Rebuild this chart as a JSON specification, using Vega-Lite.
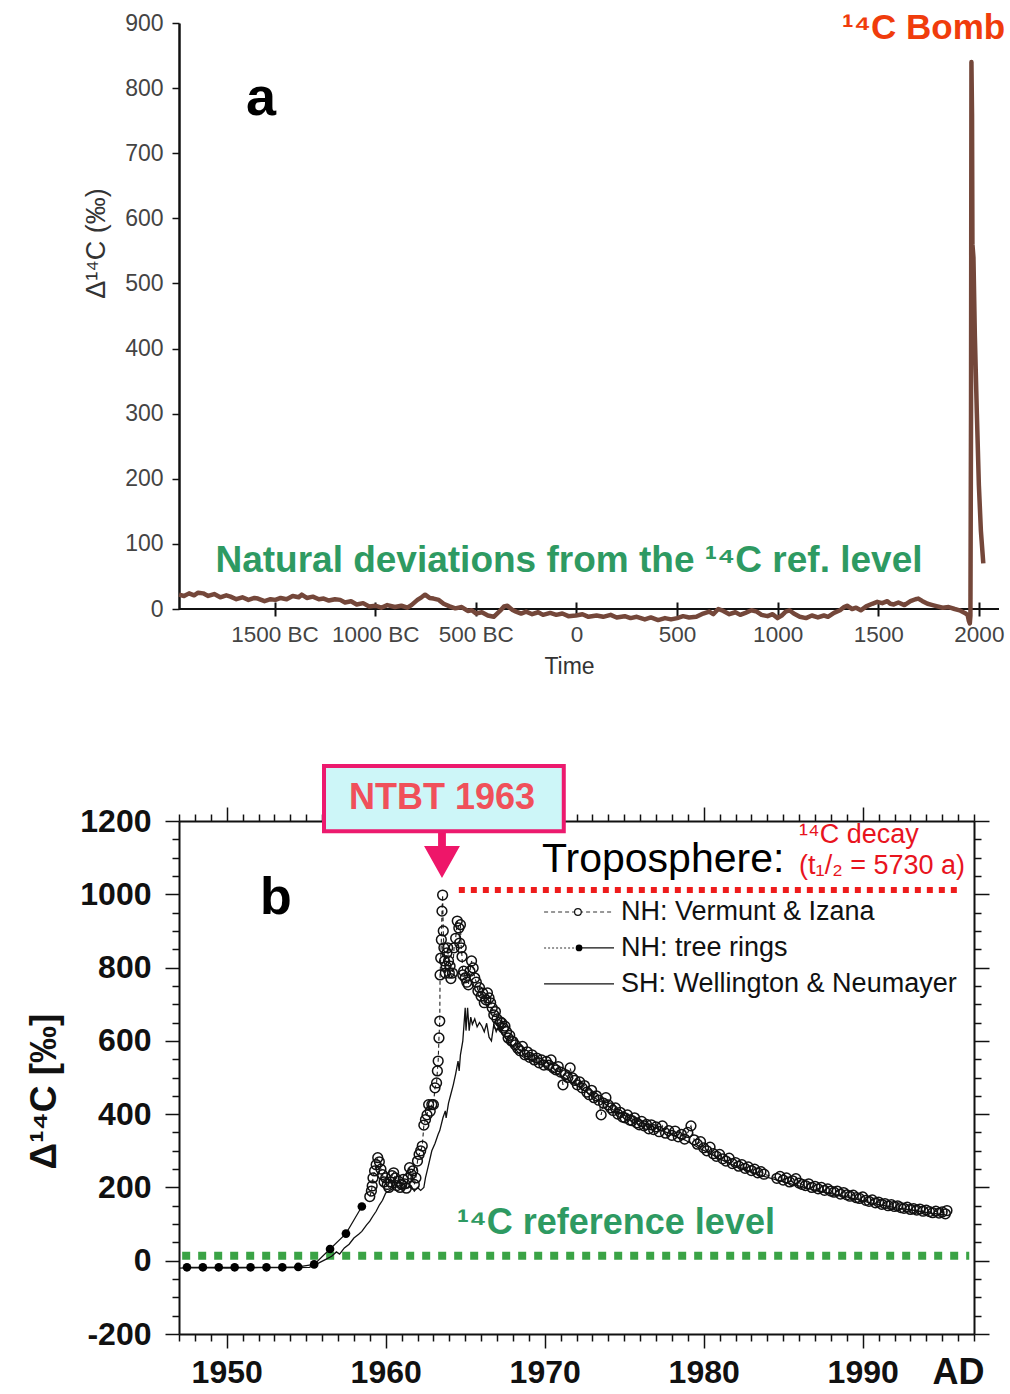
{
  "$schema": "https://vega.github.io/schema/vega-lite/v6.json",
  "background": "white",
  "padding": {"left": 25, "top": 11, "right": 0, "bottom": 0},
  "bounds": "flush",
  "spacing": 212,
  "config": {"view": {"stroke": null}, "font": "Liberation Sans", "axis": {"grid": false}},
  "vconcat": [
    {
      "width": 820,
      "height": 586,
      "layer": [
        {
          "data": {"values": [{}]},
          "mark": {"type": "rule", "color": "#111", "strokeWidth": 2},
          "encoding": {"y": {"datum": 0, "type": "quantitative"}}
        },
        {
          "data": {"values": [
            {"t":-1975,"v":22},{"t":-1950,"v":20},{"t":-1925,"v":24},{"t":-1900,"v":21},{"t":-1880,"v":25},{"t":-1855,"v":24},{"t":-1830,"v":20},{"t":-1800,"v":23},{"t":-1770,"v":18},{"t":-1740,"v":21},{"t":-1719,"v":19},{"t":-1690,"v":15},{"t":-1660,"v":18},{"t":-1630,"v":14},{"t":-1600,"v":17},{"t":-1583,"v":16},{"t":-1550,"v":12},{"t":-1520,"v":15},{"t":-1496,"v":14},{"t":-1470,"v":17},{"t":-1440,"v":15},{"t":-1410,"v":20},{"t":-1380,"v":18},{"t":-1365,"v":22},{"t":-1340,"v":17},{"t":-1310,"v":19},{"t":-1280,"v":15},{"t":-1256,"v":16},{"t":-1230,"v":13},{"t":-1200,"v":15},{"t":-1174,"v":14},{"t":-1150,"v":10},{"t":-1120,"v":12},{"t":-1092,"v":7},{"t":-1060,"v":9},{"t":-1030,"v":4},{"t":-997,"v":5},{"t":-970,"v":2},{"t":-940,"v":6},{"t":-902,"v":3},{"t":-870,"v":5},{"t":-840,"v":2},{"t":-820,"v":6},{"t":-790,"v":14},{"t":-770,"v":18},{"t":-752,"v":22},{"t":-730,"v":17},{"t":-710,"v":16},{"t":-684,"v":14},{"t":-660,"v":8},{"t":-630,"v":4},{"t":-602,"v":1},{"t":-570,"v":3},{"t":-540,"v":-3},{"t":-520,"v":-2},{"t":-499,"v":-7},{"t":-470,"v":-5},{"t":-440,"v":-10},{"t":-411,"v":-12},{"t":-380,"v":-3},{"t":-360,"v":4},{"t":-343,"v":5},{"t":-320,"v":-1},{"t":-300,"v":-4},{"t":-275,"v":-7},{"t":-250,"v":-4},{"t":-220,"v":-8},{"t":-190,"v":-5},{"t":-166,"v":-9},{"t":-130,"v":-6},{"t":-100,"v":-9},{"t":-70,"v":-7},{"t":-40,"v":-11},{"t":-3,"v":-10},{"t":30,"v":-8},{"t":60,"v":-12},{"t":100,"v":-10},{"t":133,"v":-12},{"t":170,"v":-9},{"t":200,"v":-13},{"t":240,"v":-11},{"t":269,"v":-14},{"t":300,"v":-12},{"t":340,"v":-16},{"t":370,"v":-13},{"t":406,"v":-17},{"t":440,"v":-14},{"t":470,"v":-16},{"t":501,"v":-14},{"t":530,"v":-11},{"t":560,"v":-13},{"t":596,"v":-12},{"t":630,"v":-7},{"t":660,"v":-4},{"t":680,"v":-8},{"t":705,"v":0},{"t":730,"v":-3},{"t":760,"v":-8},{"t":790,"v":-5},{"t":814,"v":-9},{"t":840,"v":-6},{"t":870,"v":-2},{"t":896,"v":-4},{"t":920,"v":-9},{"t":950,"v":-11},{"t":975,"v":-8},{"t":999,"v":-14},{"t":1020,"v":-10},{"t":1040,"v":-4},{"t":1059,"v":-2},{"t":1080,"v":-7},{"t":1110,"v":-12},{"t":1141,"v":-14},{"t":1170,"v":-10},{"t":1200,"v":-13},{"t":1230,"v":-10},{"t":1250,"v":-12},{"t":1280,"v":-6},{"t":1310,"v":-2},{"t":1330,"v":3},{"t":1345,"v":5},{"t":1370,"v":0},{"t":1390,"v":2},{"t":1413,"v":-2},{"t":1440,"v":4},{"t":1470,"v":8},{"t":1495,"v":11},{"t":1520,"v":9},{"t":1545,"v":12},{"t":1560,"v":8},{"t":1577,"v":7},{"t":1600,"v":10},{"t":1630,"v":6},{"t":1660,"v":12},{"t":1685,"v":15},{"t":1699,"v":16},{"t":1720,"v":12},{"t":1745,"v":8},{"t":1770,"v":6},{"t":1794,"v":4},{"t":1820,"v":2},{"t":1850,"v":3},{"t":1880,"v":0},{"t":1904,"v":-2},{"t":1930,"v":-6},{"t":1944,"v":-9},
            {"t":1950,"v":-18},{"t":1955,"v":-22},{"t":1958,"v":-10},{"t":1961,"v":300},{"t":1963,"v":840},{"t":1966,"v":760},{"t":1968,"v":560},{"t":1973,"v":540},{"t":1980,"v":420},{"t":1990,"v":300},{"t":2000,"v":190},{"t":2010,"v":120},{"t":2022,"v":70}
          ]},
          "mark": {"type": "line", "color": "#74473a", "strokeWidth": 4.5, "strokeJoin": "round"},
          "encoding": {
            "x": {
              "field": "t", "type": "quantitative",
              "scale": {"domain": [-1975, 2100], "nice": false, "zero": false},
              "axis": {"values": [-1500,-1000,-500,0,500,1000,1500,2000], "labelExpr": "datum.value < 0 ? (-datum.value) + ' BC' : '' + datum.value", "title": "Time", "titleX": 390, "titleFontSize": 23, "titleFontWeight": "normal", "titleColor": "#333", "titlePadding": 10, "offset": -7, "domain": false, "tickSize": 14, "tickWidth": 2, "tickColor": "#111", "labelFontSize": 22.5, "labelColor": "#444", "labelPadding": 7, "labelFlush": false, "labelOverlap": false}
            },
            "y": {
              "field": "v", "type": "quantitative",
              "scale": {"domain": [0, 900], "nice": false, "zero": false},
              "axis": {"values": [0,100,200,300,400,500,600,700,800,900], "title": "Δ¹⁴C (‰)", "titleFontSize": 27, "titleFontWeight": "normal", "titleColor": "#333", "titleY": 220, "titlePadding": 14, "tickSize": 7, "tickWidth": 1.5, "tickColor": "#111", "domainColor": "#111", "domainWidth": 2.5, "labelFontSize": 23, "labelColor": "#444", "labelPadding": 9, "labelFlush": false}
            }
          }
        },
        {
          "data": {"values": [{}]},
          "mark": {"type": "text", "text": "a", "fontSize": 54, "fontWeight": "bold", "color": "black", "align": "center", "baseline": "middle"},
          "encoding": {"x": {"datum": -1567, "type": "quantitative"}, "y": {"datum": 783, "type": "quantitative"}}
        },
        {
          "data": {"values": [{}]},
          "mark": {"type": "text", "text": "¹⁴C Bomb", "fontSize": 35, "fontWeight": "bold", "color": "#f03c0c", "align": "left", "baseline": "middle"},
          "encoding": {"x": {"datum": 1320, "type": "quantitative"}, "y": {"datum": 892, "type": "quantitative"}}
        },
        {
          "data": {"values": [{}]},
          "mark": {"type": "text", "text": "Natural deviations from the ¹⁴C ref. level", "fontSize": 37, "fontWeight": "bold", "color": "#2e9a62", "align": "center", "baseline": "middle"},
          "encoding": {"x": {"datum": -37, "type": "quantitative"}, "y": {"datum": 74, "type": "quantitative"}}
        }
      ]
    },
    {
      "width": 795,
      "height": 513,
      "resolve": {"axis": {"x": "independent", "y": "independent"}},
      "layer": [
        {
          "data": {"values": [{}]},
          "mark": {"type": "rule", "color": "#3aa345", "strokeWidth": 8, "strokeDash": [8, 8], "strokeCap": "butt"},
          "encoding": {"x": {"datum": 1947.2, "type": "quantitative", "axis": null}, "x2": {"datum": 1996.7}, "y": {"datum": 13.6, "type": "quantitative", "axis": null}}
        },
        {
          "data": {"values": [{}]},
          "mark": {"type": "rule", "color": "#ee1c1c", "strokeWidth": 6, "strokeDash": [6, 6], "strokeCap": "butt"},
          "encoding": {"x": {"datum": 1964.6, "type": "quantitative", "axis": null}, "x2": {"datum": 1996.06}, "y": {"datum": 1011.7, "type": "quantitative", "axis": null}}
        },
        {
          "data": {"values": [
            {"t":1947.0,"v":-20},{"t":1948,"v":-19},{"t":1950,"v":-20},{"t":1952,"v":-19},{"t":1954,"v":-19},{"t":1955.2,"v":-18},{"t":1955.8,"v":-6},{"t":1956.2,"v":3},{"t":1956.6,"v":12},{"t":1956.9,"v":24},{"t":1957.1,"v":18},{"t":1957.4,"v":35},{"t":1957.7,"v":45},{"t":1958.0,"v":62},{"t":1958.3,"v":72},{"t":1958.5,"v":80},{"t":1958.8,"v":98},{"t":1959.0,"v":108},{"t":1959.2,"v":122},{"t":1959.4,"v":135},{"t":1959.6,"v":152},{"t":1959.8,"v":165},{"t":1960.0,"v":185},{"t":1960.2,"v":190},{"t":1960.4,"v":196},{"t":1960.6,"v":200},{"t":1960.8,"v":202},{"t":1961.0,"v":195},{"t":1961.2,"v":205},{"t":1961.4,"v":198},{"t":1961.6,"v":204},{"t":1961.8,"v":190},{"t":1962.0,"v":200},{"t":1962.2,"v":192},{"t":1962.4,"v":200},{"t":1962.5,"v":226},{"t":1962.7,"v":262},{"t":1962.9,"v":300},{"t":1963.1,"v":320},{"t":1963.3,"v":345},{"t":1963.4,"v":355},{"t":1963.6,"v":390},{"t":1963.75,"v":409},{"t":1963.8,"v":390},{"t":1963.95,"v":430},{"t":1964.1,"v":455},{"t":1964.25,"v":480},{"t":1964.4,"v":510},{"t":1964.55,"v":545},{"t":1964.62,"v":518},{"t":1964.7,"v":562},{"t":1964.85,"v":600},{"t":1965.0,"v":690},{"t":1965.05,"v":628},{"t":1965.15,"v":690},{"t":1965.25,"v":628},{"t":1965.35,"v":665},{"t":1965.45,"v":645},{"t":1965.6,"v":660},{"t":1965.75,"v":638},{"t":1965.9,"v":650},{"t":1966.05,"v":640},{"t":1966.2,"v":625},{"t":1966.35,"v":648},{"t":1966.5,"v":610},{"t":1966.65,"v":600},{"t":1966.8,"v":645},{"t":1966.95,"v":625},{"t":1967.1,"v":640},{"t":1967.3,"v":620},{"t":1967.6,"v":605},{"t":1967.9,"v":590},{"t":1968.2,"v":575},{"t":1968.5,"v":560},{"t":1968.9,"v":550},{"t":1969.3,"v":545},{"t":1969.8,"v":535},{"t":1970.3,"v":522},{"t":1970.8,"v":510},{"t":1971.3,"v":498},{"t":1971.8,"v":485},{"t":1972.3,"v":470},{"t":1972.8,"v":455},{"t":1973.3,"v":440},{"t":1973.8,"v":428},{"t":1974.3,"v":412},{"t":1974.8,"v":402},{"t":1975.3,"v":390},{"t":1975.8,"v":382},{"t":1976.3,"v":374},{"t":1976.8,"v":366},{"t":1977.3,"v":356},{"t":1977.8,"v":348},{"t":1978.3,"v":338},{"t":1978.8,"v":330},{"t":1979.3,"v":318},{"t":1979.8,"v":305},{"t":1980.3,"v":295},{"t":1980.8,"v":283},{"t":1981.3,"v":272},{"t":1981.8,"v":262},{"t":1982.3,"v":254},{"t":1982.8,"v":246},{"t":1983.3,"v":238},{"t":1983.8,"v":230},{"t":1984.3,"v":224},{"t":1984.8,"v":218},{"t":1985.3,"v":212},{"t":1985.8,"v":206},{"t":1986.3,"v":200},{"t":1986.8,"v":195},{"t":1987.3,"v":190},{"t":1987.8,"v":185},{"t":1988.3,"v":180},{"t":1988.8,"v":176},{"t":1989.3,"v":171},{"t":1989.8,"v":166},{"t":1990.3,"v":160},{"t":1990.8,"v":155},{"t":1991.3,"v":151},{"t":1991.8,"v":147},{"t":1992.3,"v":143},{"t":1992.8,"v":140},{"t":1993.3,"v":137},{"t":1993.8,"v":133},{"t":1994.3,"v":130},{"t":1994.8,"v":127},{"t":1995.1,"v":125}
          ]},
          "mark": {"type": "line", "color": "#111", "strokeWidth": 1.3},
          "encoding": {
            "x": {
              "field": "t", "type": "quantitative",
              "scale": {"domain": [1947, 1997], "nice": false, "zero": false},
              "axis": {"orient": "bottom", "values": [1947,1948,1949,1950,1951,1952,1953,1954,1955,1956,1957,1958,1959,1960,1961,1962,1963,1964,1965,1966,1967,1968,1969,1970,1971,1972,1973,1974,1975,1976,1977,1978,1979,1980,1981,1982,1983,1984,1985,1986,1987,1988,1989,1990,1991,1992,1993,1994,1995,1996,1997], "labelExpr": "datum.value % 10 === 0 ? '' + datum.value : (datum.value === 1996 ? 'AD' : '')", "tickSize": {"condition": {"test": "datum.value % 10 === 0", "value": 14}, "value": 7}, "tickWidth": 1.5, "tickColor": "#111", "domainColor": "#111", "domainWidth": 2, "labelFontSize": {"condition": {"test": "datum.value === 1996", "value": 36}, "value": 32}, "labelFontWeight": "bold", "labelColor": "#111", "labelPadding": {"condition": {"test": "datum.value === 1996", "value": 14}, "value": 9}, "labelFlush": false, "labelOverlap": false, "labelBound": false, "title": null}
            },
            "y": {
              "field": "v", "type": "quantitative",
              "scale": {"domain": [-200, 1200], "nice": false, "zero": false},
              "axis": {"orient": "left", "values": [-200,-150,-100,-50,0,50,100,150,200,250,300,350,400,450,500,550,600,650,700,750,800,850,900,950,1000,1050,1100,1150,1200], "labelExpr": "datum.value % 200 === 0 ? '' + datum.value : ''", "tickSize": {"condition": {"test": "datum.value % 200 === 0", "value": 14}, "value": 7}, "tickWidth": 1.5, "tickColor": "#111", "domainColor": "#111", "domainWidth": 2, "labelFontSize": 32, "labelFontWeight": "bold", "labelColor": "#111", "labelPadding": 14, "labelFlush": false, "labelOverlap": false, "title": "Δ¹⁴C [‰]", "titleFontSize": 37, "titleFontWeight": "bold", "titleColor": "#111", "titlePadding": 16, "titleY": 270}
            }
          }
        },
        {
          "data": {"name": "nh", "values": [
            {"t":1959.0,"v":175},{"t":1959.1,"v":190},{"t":1959.15,"v":204},{"t":1959.2,"v":226},{"t":1959.3,"v":245},{"t":1959.4,"v":262},{"t":1959.5,"v":281},{"t":1959.6,"v":270},{"t":1959.7,"v":250},{"t":1959.8,"v":235},{"t":1959.9,"v":215},{"t":1960.0,"v":226},{"t":1960.1,"v":208},{"t":1960.2,"v":200},{"t":1960.3,"v":215},{"t":1960.4,"v":232},{"t":1960.5,"v":240},{"t":1960.6,"v":226},{"t":1960.7,"v":205},{"t":1960.8,"v":217},{"t":1960.9,"v":200},{"t":1961.0,"v":208},{"t":1961.1,"v":222},{"t":1961.2,"v":210},{"t":1961.3,"v":198},{"t":1961.4,"v":225},{"t":1961.5,"v":254},{"t":1961.6,"v":236},{"t":1961.7,"v":245},{"t":1961.8,"v":208},{"t":1961.9,"v":226},{"t":1962.0,"v":272},{"t":1962.1,"v":290},{"t":1962.2,"v":300},{"t":1962.3,"v":313},{"t":1962.4,"v":370},{"t":1962.5,"v":385},{"t":1962.6,"v":398},{"t":1962.7,"v":426},{"t":1962.8,"v":408},{"t":1962.9,"v":426},{"t":1963.0,"v":426},{"t":1963.1,"v":472},{"t":1963.2,"v":485},{"t":1963.25,"v":518},{"t":1963.3,"v":545},{"t":1963.35,"v":608},{"t":1963.4,"v":654},{"t":1963.42,"v":780},{"t":1963.46,"v":826},{"t":1963.5,"v":876},{"t":1963.54,"v":954},{"t":1963.58,"v":998},{"t":1963.62,"v":900},{"t":1963.66,"v":854},{"t":1963.7,"v":818},{"t":1963.75,"v":785},{"t":1963.8,"v":804},{"t":1963.85,"v":840},{"t":1963.9,"v":854},{"t":1963.95,"v":818},{"t":1964.0,"v":785},{"t":1964.05,"v":804},{"t":1964.1,"v":770},{"t":1964.2,"v":785},{"t":1964.3,"v":854},{"t":1964.4,"v":880},{"t":1964.5,"v":927},{"t":1964.6,"v":908},{"t":1964.65,"v":867},{"t":1964.7,"v":917},{"t":1964.75,"v":854},{"t":1964.8,"v":830},{"t":1964.85,"v":780},{"t":1964.9,"v":790},{"t":1965.0,"v":772},{"t":1965.1,"v":760},{"t":1965.2,"v":753},{"t":1965.3,"v":790},{"t":1965.4,"v":818},{"t":1965.5,"v":799},{"t":1965.6,"v":772},{"t":1965.7,"v":760},{"t":1965.8,"v":736},{"t":1965.9,"v":745},{"t":1966.0,"v":722},{"t":1966.1,"v":730},{"t":1966.2,"v":704},{"t":1966.3,"v":712},{"t":1966.4,"v":731},{"t":1966.5,"v":717},{"t":1966.6,"v":704},{"t":1966.7,"v":690},{"t":1966.8,"v":671},{"t":1966.9,"v":680},{"t":1967.0,"v":660},{"t":1967.1,"v":644},{"t":1967.2,"v":652},{"t":1967.3,"v":649},{"t":1967.4,"v":635},{"t":1967.5,"v":640},{"t":1967.6,"v":625},{"t":1967.7,"v":608},{"t":1967.8,"v":615},{"t":1967.9,"v":600},{"t":1968.0,"v":598},{"t":1968.15,"v":589},{"t":1968.3,"v":580},{"t":1968.45,"v":573},{"t":1968.6,"v":585},{"t":1968.75,"v":562},{"t":1968.9,"v":570},{"t":1969.05,"v":555},{"t":1969.2,"v":562},{"t":1969.35,"v":548},{"t":1969.5,"v":553},{"t":1969.65,"v":540},{"t":1969.8,"v":548},{"t":1969.95,"v":534},{"t":1970.1,"v":544},{"t":1970.25,"v":534},{"t":1970.4,"v":548},{"t":1970.55,"v":526},{"t":1970.7,"v":521},{"t":1970.85,"v":530},{"t":1971.0,"v":515},{"t":1971.15,"v":480},{"t":1971.3,"v":508},{"t":1971.45,"v":500},{"t":1971.6,"v":526},{"t":1971.75,"v":499},{"t":1971.9,"v":492},{"t":1972.05,"v":480},{"t":1972.2,"v":488},{"t":1972.35,"v":472},{"t":1972.5,"v":478},{"t":1972.65,"v":460},{"t":1972.8,"v":453},{"t":1972.95,"v":465},{"t":1973.1,"v":445},{"t":1973.25,"v":450},{"t":1973.4,"v":438},{"t":1973.55,"v":398},{"t":1973.7,"v":430},{"t":1973.85,"v":445},{"t":1974.0,"v":425},{"t":1974.15,"v":417},{"t":1974.3,"v":410},{"t":1974.45,"v":417},{"t":1974.6,"v":400},{"t":1974.75,"v":405},{"t":1974.9,"v":392},{"t":1975.05,"v":390},{"t":1975.2,"v":398},{"t":1975.35,"v":384},{"t":1975.5,"v":382},{"t":1975.65,"v":390},{"t":1975.8,"v":376},{"t":1975.95,"v":371},{"t":1976.1,"v":380},{"t":1976.25,"v":368},{"t":1976.4,"v":372},{"t":1976.55,"v":360},{"t":1976.7,"v":371},{"t":1976.85,"v":358},{"t":1977.0,"v":365},{"t":1977.2,"v":352},{"t":1977.4,"v":368},{"t":1977.6,"v":348},{"t":1977.8,"v":355},{"t":1978.0,"v":342},{"t":1978.2,"v":354},{"t":1978.4,"v":338},{"t":1978.6,"v":345},{"t":1978.8,"v":332},{"t":1979.0,"v":350},{"t":1979.2,"v":368},{"t":1979.4,"v":330},{"t":1979.6,"v":318},{"t":1979.8,"v":325},{"t":1980.0,"v":308},{"t":1980.2,"v":300},{"t":1980.4,"v":310},{"t":1980.6,"v":292},{"t":1980.8,"v":285},{"t":1981.0,"v":290},{"t":1981.2,"v":278},{"t":1981.4,"v":272},{"t":1981.6,"v":280},{"t":1981.8,"v":265},{"t":1982.0,"v":268},{"t":1982.2,"v":258},{"t":1982.4,"v":262},{"t":1982.6,"v":252},{"t":1982.8,"v":256},{"t":1983.0,"v":246},{"t":1983.2,"v":250},{"t":1983.4,"v":240},{"t":1983.6,"v":243},{"t":1983.8,"v":236},{"t":1984.6,"v":225},{"t":1984.8,"v":230},{"t":1985.0,"v":220},{"t":1985.2,"v":226},{"t":1985.4,"v":215},{"t":1985.6,"v":218},{"t":1985.8,"v":224},{"t":1986.0,"v":212},{"t":1986.2,"v":208},{"t":1986.4,"v":205},{"t":1986.6,"v":210},{"t":1986.8,"v":200},{"t":1987.0,"v":203},{"t":1987.2,"v":196},{"t":1987.4,"v":200},{"t":1987.6,"v":192},{"t":1987.8,"v":196},{"t":1988.0,"v":190},{"t":1988.2,"v":187},{"t":1988.4,"v":190},{"t":1988.6,"v":182},{"t":1988.8,"v":186},{"t":1989.0,"v":180},{"t":1989.2,"v":176},{"t":1989.4,"v":179},{"t":1989.6,"v":172},{"t":1989.8,"v":170},{"t":1990.0,"v":174},{"t":1990.2,"v":165},{"t":1990.4,"v":162},{"t":1990.6,"v":166},{"t":1990.8,"v":158},{"t":1991.0,"v":160},{"t":1991.2,"v":154},{"t":1991.4,"v":156},{"t":1991.6,"v":150},{"t":1991.8,"v":153},{"t":1992.0,"v":148},{"t":1992.2,"v":150},{"t":1992.4,"v":145},{"t":1992.6,"v":143},{"t":1992.8,"v":146},{"t":1993.0,"v":140},{"t":1993.2,"v":142},{"t":1993.4,"v":138},{"t":1993.6,"v":141},{"t":1993.8,"v":135},{"t":1994.0,"v":138},{"t":1994.2,"v":134},{"t":1994.4,"v":131},{"t":1994.6,"v":135},{"t":1994.8,"v":130},{"t":1995.0,"v":133},{"t":1995.2,"v":128},{"t":1995.3,"v":137}
          ]},
          "mark": {"type": "line", "color": "#222", "strokeWidth": 1.1, "strokeDash": [4, 3]},
          "encoding": {
            "x": {"field": "t", "type": "quantitative", "axis": null},
            "y": {"field": "v", "type": "quantitative", "axis": null}
          }
        },
        {
          "data": {"name": "nh"},
          "mark": {"type": "point", "shape": "circle", "filled": false, "color": "#111", "strokeWidth": 1.5, "size": 95, "opacity": 1},
          "encoding": {
            "x": {"field": "t", "type": "quantitative", "axis": {"orient": "top", "values": [1947,1948,1949,1950,1951,1952,1953,1954,1955,1956,1957,1958,1959,1960,1961,1962,1963,1964,1965,1966,1967,1968,1969,1970,1971,1972,1973,1974,1975,1976,1977,1978,1979,1980,1981,1982,1983,1984,1985,1986,1987,1988,1989,1990,1991,1992,1993,1994,1995,1996,1997], "labels": false, "tickSize": {"condition": {"test": "datum.value % 10 === 0", "value": 14}, "value": 7}, "tickWidth": 1.5, "tickColor": "#111", "domainColor": "#111", "domainWidth": 2, "title": null}},
            "y": {"field": "v", "type": "quantitative", "axis": {"orient": "right", "values": [-200,-150,-100,-50,0,50,100,150,200,250,300,350,400,450,500,550,600,650,700,750,800,850,900,950,1000,1050,1100,1150,1200], "labels": false, "tickSize": {"condition": {"test": "datum.value % 200 === 0", "value": 15}, "value": 7}, "tickWidth": 1.5, "tickColor": "#111", "domainColor": "#111", "domainWidth": 2, "title": null}}
          }
        },
        {
          "data": {"name": "tree", "values": [
            {"t":1947.5,"v":-18},{"t":1948.5,"v":-18},{"t":1949.5,"v":-18},{"t":1950.5,"v":-18},{"t":1951.5,"v":-18},{"t":1952.5,"v":-18},{"t":1953.5,"v":-18},{"t":1954.5,"v":-17},{"t":1955.5,"v":-10},{"t":1956.5,"v":32},{"t":1957.5,"v":74},{"t":1958.5,"v":148}
          ]},
          "mark": {"type": "line", "color": "#111", "strokeWidth": 1.2},
          "encoding": {
            "x": {"field": "t", "type": "quantitative", "axis": null},
            "y": {"field": "v", "type": "quantitative", "axis": null}
          }
        },
        {
          "data": {"name": "tree"},
          "mark": {"type": "point", "shape": "circle", "filled": true, "color": "#000", "size": 75, "opacity": 1},
          "encoding": {
            "x": {"field": "t", "type": "quantitative", "axis": null},
            "y": {"field": "v", "type": "quantitative", "axis": null}
          }
        },
        {
          "data": {"values": [{}]},
          "mark": {"type": "rect", "fill": "#cdf6f8", "stroke": "#ec1a6e", "strokeWidth": 4},
          "encoding": {"x": {"datum": 1956.12, "type": "quantitative", "axis": null}, "x2": {"datum": 1971.2}, "y": {"datum": 1350, "type": "quantitative", "axis": null}, "y2": {"datum": 1172}}
        },
        {
          "data": {"values": [{}]},
          "mark": {"type": "text", "text": "NTBT 1963", "fontSize": 36, "fontWeight": "bold", "color": "#f0505a", "align": "center", "baseline": "middle"},
          "encoding": {"x": {"datum": 1963.54, "type": "quantitative", "axis": null}, "y": {"datum": 1263, "type": "quantitative", "axis": null}}
        },
        {
          "data": {"values": [{}]},
          "mark": {"type": "point", "shape": "M-0.17,-0.98L0.17,-0.98L0.17,-0.41L0.78,-0.41L0,0.98L-0.78,-0.41L-0.17,-0.41Z", "size": 2116, "filled": true, "color": "#ee1669", "opacity": 1, "strokeWidth": 0},
          "encoding": {"x": {"datum": 1963.54, "type": "quantitative", "axis": null}, "y": {"datum": 1106, "type": "quantitative", "axis": null}}
        },
        {
          "data": {"values": [{}]},
          "mark": {"type": "text", "text": "b", "fontSize": 52, "fontWeight": "bold", "color": "black", "align": "center", "baseline": "middle"},
          "encoding": {"x": {"datum": 1953.1, "type": "quantitative", "axis": null}, "y": {"datum": 990, "type": "quantitative", "axis": null}}
        },
        {
          "data": {"values": [{}]},
          "mark": {"type": "text", "text": "Troposphere:", "fontSize": 41, "color": "black", "align": "left", "baseline": "middle"},
          "encoding": {"x": {"datum": 1969.83, "type": "quantitative", "axis": null}, "y": {"datum": 1093.5, "type": "quantitative", "axis": null}}
        },
        {
          "data": {"values": [{}]},
          "mark": {"type": "text", "text": "¹⁴C decay", "fontSize": 27, "color": "#e8141e", "align": "left", "baseline": "middle"},
          "encoding": {"x": {"datum": 1986.0, "type": "quantitative", "axis": null}, "y": {"datum": 1162, "type": "quantitative", "axis": null}}
        },
        {
          "data": {"values": [{}]},
          "mark": {"type": "text", "text": "(t₁/₂ = 5730 a)", "fontSize": 27, "color": "#e8141e", "align": "left", "baseline": "middle"},
          "encoding": {"x": {"datum": 1986.0, "type": "quantitative", "axis": null}, "y": {"datum": 1077, "type": "quantitative", "axis": null}}
        },
        {
          "data": {"values": [{}]},
          "mark": {"type": "text", "text": "¹⁴C reference level", "fontSize": 36, "fontWeight": "bold", "color": "#2e9a62", "align": "left", "baseline": "middle"},
          "encoding": {"x": {"datum": 1964.48, "type": "quantitative", "axis": null}, "y": {"datum": 103.6, "type": "quantitative", "axis": null}}
        },
        {
          "data": {"values": [{}]},
          "mark": {"type": "rule", "color": "#333", "strokeWidth": 1.1, "strokeDash": [4, 3]},
          "encoding": {"x": {"datum": 1969.96, "type": "quantitative", "axis": null}, "x2": {"datum": 1974.36}, "y": {"datum": 951.7, "type": "quantitative", "axis": null}}
        },
        {
          "data": {"values": [{}]},
          "mark": {"type": "point", "shape": "circle", "filled": true, "fill": "white", "stroke": "#111", "strokeWidth": 1.2, "size": 45, "opacity": 1},
          "encoding": {"x": {"datum": 1972.09, "type": "quantitative", "axis": null}, "y": {"datum": 951.7, "type": "quantitative", "axis": null}}
        },
        {
          "data": {"values": [{}]},
          "mark": {"type": "rule", "color": "#333", "strokeWidth": 1.1, "strokeDash": [2, 2]},
          "encoding": {"x": {"datum": 1969.96, "type": "quantitative", "axis": null}, "x2": {"datum": 1972.1}, "y": {"datum": 853.6, "type": "quantitative", "axis": null}}
        },
        {
          "data": {"values": [{}]},
          "mark": {"type": "rule", "color": "#111", "strokeWidth": 1.2},
          "encoding": {"x": {"datum": 1972.1, "type": "quantitative", "axis": null}, "x2": {"datum": 1974.36}, "y": {"datum": 853.6, "type": "quantitative", "axis": null}}
        },
        {
          "data": {"values": [{}]},
          "mark": {"type": "point", "shape": "circle", "filled": true, "color": "#000", "size": 45, "opacity": 1},
          "encoding": {"x": {"datum": 1972.16, "type": "quantitative", "axis": null}, "y": {"datum": 853.6, "type": "quantitative", "axis": null}}
        },
        {
          "data": {"values": [{}]},
          "mark": {"type": "rule", "color": "#111", "strokeWidth": 1.2},
          "encoding": {"x": {"datum": 1969.96, "type": "quantitative", "axis": null}, "x2": {"datum": 1974.36}, "y": {"datum": 755.4, "type": "quantitative", "axis": null}}
        },
        {
          "data": {"values": [
            {"label": "NH: Vermunt & Izana", "row": 951.7},
            {"label": "NH: tree rings", "row": 853.6},
            {"label": "SH: Wellington & Neumayer", "row": 755.4}
          ]},
          "mark": {"type": "text", "fontSize": 27, "color": "#111", "align": "left", "baseline": "middle"},
          "encoding": {"x": {"datum": 1974.8, "type": "quantitative", "axis": null}, "y": {"field": "row", "type": "quantitative", "axis": null}, "text": {"field": "label"}}
        }
      ]
    }
  ]
}
